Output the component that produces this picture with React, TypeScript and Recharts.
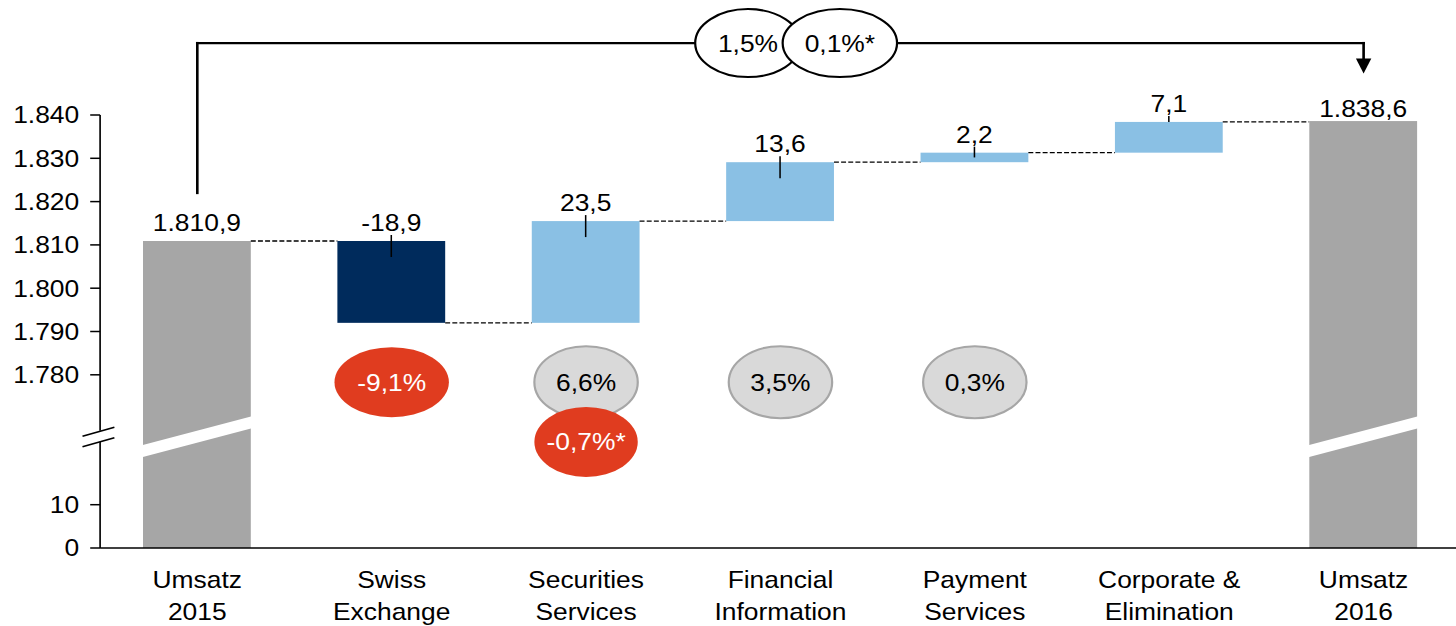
import { BarChart, Bar, XAxis, YAxis, LabelList, ReferenceLine, ReferenceDot } from "recharts";

const categories = [
  "Umsatz 2015",
  "Swiss Exchange",
  "Securities Services",
  "Financial Information",
  "Payment Services",
  "Corporate & Elimination",
  "Umsatz 2016",
];
const tickLines = [
  ["Umsatz", "2015"],
  ["Swiss", "Exchange"],
  ["Securities", "Services"],
  ["Financial", "Information"],
  ["Payment", "Services"],
  ["Corporate &", "Elimination"],
  ["Umsatz", "2016"],
];
const amounts = [1810.9, -18.9, 23.5, 13.6, 2.2, 7.1, 1838.6];
const isTotal = [true, false, false, false, false, false, true];

// growth ovals below the bars
const growthCategories = ["Swiss Exchange", "Securities Services", "Financial Information", "Payment Services"];
const growthLabels = ["-9,1%", "6,6%", "3,5%", "0,3%"];
const growthNegative = [true, false, false, false];
const organicCategories = ["Securities Services"];
const organicLabels = ["-0,7%*"];
// group growth ovals on the bracket
const groupLabels = ["1,5%", "0,1%*"];

// broken axis: everything above the break is shifted down by AXIS_OFFSET
const AXIS_OFFSET = 1740;
const BREAK = 25.7;
const yTicks = [0, 10, BREAK, 40, 50, 60, 70, 80, 90, 100];

const STRETCH = 1.1;
const CHART_W = 1329;
const CHART_H = 626;
const Y_W = 91;
const MARGIN = { top: 115, right: 1, bottom: 0, left: 0 };
const BAND = (CHART_W - Y_W - MARGIN.right) / categories.length;
const TICK_SIZE = 9;
const TICK_MARGIN = 10;
const FONT = '"Liberation Sans", Arial, sans-serif';
const FS = 24;

const GRAY = "#A6A6A6";
const NAVY = "#002B5C";
const LIGHT = "#8AC0E4";
const RED = "#E03C1F";

const fmtNum = (v: number, dec: number) => {
  const [i, f] = Math.abs(v).toFixed(dec).split(".");
  const ig = i.replace(/\B(?=(\d{3})+(?!\d))/g, ".");
  return (v < 0 ? "-" : "") + ig + (f ? "," + f : "");
};

let running = 0;
const data = categories.map((name, i) => {
  const v = amounts[i];
  if (isTotal[i]) {
    running = v;
    return { name, range: [0, v - AXIS_OFFSET], end: v - AXIS_OFFSET, total: true, label: fmtNum(v, 1), fill: GRAY };
  }
  const start = running;
  running += v;
  return {
    name,
    range: [Math.min(start, running) - AXIS_OFFSET, Math.max(start, running) - AXIS_OFFSET],
    end: running - AXIS_OFFSET,
    total: false,
    label: fmtNum(v, 1),
    fill: v < 0 ? NAVY : LIGHT,
  };
});

const Y_GROWTH = 38.3;
const Y_ORGANIC = 24.5;
const Y_BRACKET = 116.6;
const Y_BRACKET_START = 82;
const Y_ARROW_STEM = 112.5;
const Y_ARROW_TIP = 109.6;

const WaterfallShape = (props: any) => {
  const { x, y, width, payload } = props;
  const height = Math.abs(props.height);
  const [lo, hi] = payload.range;
  const ppu = height / (hi - lo);
  const bottom = y + height;
  const yEnd = bottom - (payload.end - lo) * ppu;
  const cx = x + width / 2;
  const last = payload.name === categories[categories.length - 1];
  let band = null;
  if (payload.total) {
    const yb = bottom - BREAK * ppu;
    const pts = [
      [x - 1, yb + 14.5 - 6],
      [x + width + 1, yb - 14.5 - 6],
      [x + width + 1, yb - 14.5 + 6],
      [x - 1, yb + 14.5 + 6],
    ];
    band = <polygon points={pts.map((p) => p.join(",")).join(" ")} fill="#fff" />;
  }
  // leader from the label into the bar (short one for the last step)
  const into = height > 32 || height < 12 ? Math.min(16, height / 2) : 0;
  return (
    <g>
      <rect x={x} y={y} width={width} height={height} fill={payload.fill} />
      {band}
      {!payload.total && (
        <line x1={cx} x2={cx} y1={y - 6} y2={y + into} stroke="#000" strokeWidth={1.4} />
      )}
      {!last && (
        <line x1={x + width} x2={x + BAND} y1={yEnd} y2={yEnd} stroke="#000" strokeWidth={1.3} strokeDasharray="4.5 2" />
      )}
    </g>
  );
};

const BarLabel = (props: any) => {
  const { x, y, width, value, index } = props;
  const gap = index === categories.length - 1 ? 4 : 10;
  return (
    <text x={x + width / 2} y={y - gap} textAnchor="middle" fontSize={FS} fill="#000" fontFamily={FONT}>
      {value}
    </text>
  );
};

const CategoryTick = ({ x, y, payload }: any) => {
  const lines = tickLines[categories.indexOf(payload.value)] || [payload.value];
  return (
    <text x={x} y={y} textAnchor="middle" fontSize={FS} fill="#000" fontFamily={FONT}>
      {lines.map((l, i) => (
        <tspan key={i} x={x} dy={i === 0 ? 40 : 32}>
          {l}
        </tspan>
      ))}
    </text>
  );
};

const ValueTick = ({ x, y, payload }: any) => {
  const ax = x + TICK_MARGIN + TICK_SIZE;
  if (payload.value === BREAK) {
    return (
      <g>
        <rect x={ax - 4} y={y - 6} width={8} height={11} fill="#fff" />
        <line x1={ax - 16} y1={y - 0.5} x2={ax + 13} y2={y - 9.5} stroke="#000" strokeWidth={1.5} />
        <line x1={ax - 16} y1={y + 10} x2={ax + 13} y2={y + 1} stroke="#000" strokeWidth={1.5} />
      </g>
    );
  }
  const real = payload.value <= 20 ? payload.value : payload.value + AXIS_OFFSET;
  return (
    <g>
      <line x1={ax - TICK_SIZE} x2={ax} y1={y} y2={y} stroke="#000" strokeWidth={1.5} />
      <text x={x} y={y} dy="0.35em" textAnchor="end" fontSize={FS} fill="#000" fontFamily={FONT}>
        {fmtNum(real, 0)}
      </text>
    </g>
  );
};

const Oval = ({ cx, cy, rx, ry, fill, stroke, color, text }: any) => (
  <g>
    <ellipse cx={cx} cy={cy} rx={rx} ry={ry} fill={fill} stroke={stroke} strokeWidth={stroke === "none" ? 0 : 2} />
    <text x={cx} y={cy} dy="0.35em" textAnchor="middle" fontSize={FS} fill={color} fontFamily={FONT}>
      {text}
    </text>
  </g>
);

const bracket = { stroke: "#000", strokeWidth: 2.4, ifOverflow: "visible" as const, strokeLinecap: "square" as const };

export default function App() {
  return (
    <div style={{ position: "absolute", left: 0, top: 0, width: 1456, height: CHART_H, overflow: "hidden", background: "#fff" }}>
      <div style={{ transform: `scaleX(${STRETCH})`, transformOrigin: "0 0", width: CHART_W, height: CHART_H, fontFamily: FONT }}>
        <BarChart width={CHART_W} height={CHART_H} data={data} margin={MARGIN} barSize={98}>
          <XAxis
            dataKey="name"
            interval={0}
            height={78}
            tickLine={false}
            tickSize={0}
            tickMargin={0}
            axisLine={{ stroke: "#000", strokeWidth: 1.5 }}
            tick={<CategoryTick />}
          />
          <YAxis
            type="number"
            domain={[0, 100]}
            ticks={yTicks}
            interval={0}
            width={Y_W}
            tickLine={false}
            tickSize={TICK_SIZE}
            tickMargin={TICK_MARGIN}
            axisLine={{ stroke: "#000", strokeWidth: 1.5 }}
            tick={<ValueTick />}
          />
          <Bar dataKey="range" isAnimationActive={false} shape={<WaterfallShape />}>
            <LabelList dataKey="label" content={<BarLabel />} />
          </Bar>

          <ReferenceLine segment={[{ x: categories[0], y: Y_BRACKET_START }, { x: categories[0], y: Y_BRACKET }]} {...bracket} />
          <ReferenceLine segment={[{ x: categories[0], y: Y_BRACKET }, { x: categories[6], y: Y_BRACKET }]} {...bracket} />
          <ReferenceLine segment={[{ x: categories[6], y: Y_BRACKET }, { x: categories[6], y: Y_ARROW_STEM }]} {...bracket} />
          <ReferenceDot
            x={categories[6]}
            y={Y_ARROW_TIP}
            ifOverflow="visible"
            shape={(p: any) => (
              <polygon points={`${p.cx - 7},${p.cy - 15} ${p.cx + 7},${p.cy - 15} ${p.cx},${p.cy}`} fill="#000" />
            )}
          />
          <ReferenceDot
            x={categories[3]}
            y={Y_BRACKET}
            ifOverflow="visible"
            shape={(p: any) => (
              <g>
                <Oval cx={p.cx - 29.5} cy={p.cy} rx={48} ry={34} fill="#fff" stroke="#000" color="#000" text={groupLabels[0]} />
                <Oval cx={p.cx + 54} cy={p.cy} rx={52} ry={34} fill="#fff" stroke="#000" color="#000" text={groupLabels[1]} />
              </g>
            )}
          />

          {growthCategories.map((c, i) => (
            <ReferenceDot
              key={c}
              x={c}
              y={Y_GROWTH}
              ifOverflow="visible"
              shape={(p: any) =>
                growthNegative[i] ? (
                  <Oval cx={p.cx} cy={p.cy} rx={52} ry={35} fill={RED} stroke="none" color="#fff" text={growthLabels[i]} />
                ) : (
                  <Oval cx={p.cx} cy={p.cy} rx={47} ry={36} fill="#D9D9D9" stroke={GRAY} color="#000" text={growthLabels[i]} />
                )
              }
            />
          ))}
          {organicCategories.map((c, i) => (
            <ReferenceDot
              key={"o" + c}
              x={c}
              y={Y_ORGANIC}
              ifOverflow="visible"
              shape={(p: any) => (
                <Oval cx={p.cx} cy={p.cy} rx={47} ry={35} fill={RED} stroke="none" color="#fff" text={organicLabels[i]} />
              )}
            />
          ))}
        </BarChart>
      </div>
    </div>
  );
}
